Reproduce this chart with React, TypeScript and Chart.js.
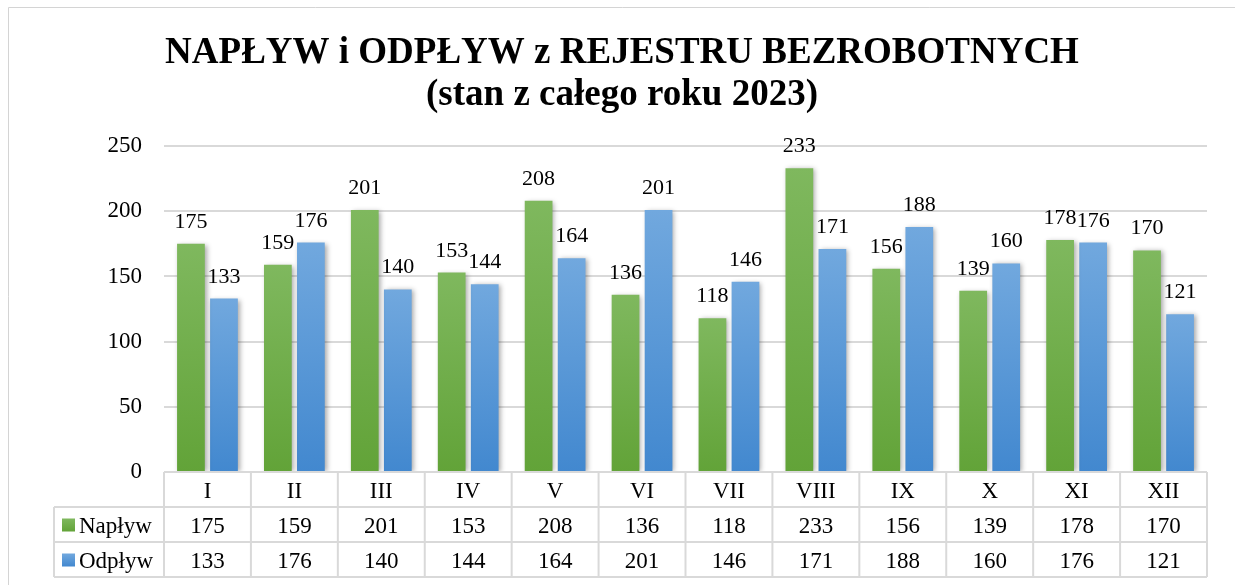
import React, { useEffect, useRef } from 'react';
import { Chart, registerables } from 'chart.js';

Chart.register(...registerables);

const TITLE_LINES = ['NAPŁYW i ODPŁYW z REJESTRU BEZROBOTNYCH', '(stan z całego roku 2023)'];
const CATEGORIES = ['I', 'II', 'III', 'IV', 'V', 'VI', 'VII', 'VIII', 'IX', 'X', 'XI', 'XII'];
const SERIES_NAMES = ['Napływ', 'Odpływ'];
const NAPLYW = [175, 159, 201, 153, 208, 136, 118, 233, 156, 139, 178, 170];
const ODPLYW = [133, 176, 140, 144, 164, 201, 146, 171, 188, 160, 176, 121];
const Y_MIN = 0;
const Y_MAX = 250;
const Y_STEP = 50;

const SERIF = '"Liberation Serif", "Times New Roman", "DejaVu Serif", serif';
const GREEN = ['#7fb85e', '#62a338'];
const BLUE = ['#71a8de', '#4288cf'];
const LINE = '#d9d9d9';

function barGradient(colors: string[]) {
  return (ctx: any) => {
    const chart = ctx.chart;
    const y = chart.scales && chart.scales.y;
    if (!y || ctx.type !== 'data') return colors[0];
    const top = y.getPixelForValue(ctx.raw);
    const bottom = y.getPixelForValue(0);
    if (!isFinite(top) || !isFinite(bottom) || top === bottom) return colors[0];
    const g = chart.ctx.createLinearGradient(0, top, 0, bottom);
    g.addColorStop(0, colors[0]);
    g.addColorStop(1, colors[1]);
    return g;
  };
}

const frameAndShadowPlugin = {
  id: 'frameAndShadow',
  beforeDraw(chart: any) {
    const ctx = chart.ctx;
    ctx.save();
    ctx.fillStyle = '#ffffff';
    ctx.fillRect(0, 0, chart.width, chart.height);
    ctx.strokeStyle = '#d4d4d4';
    ctx.lineWidth = 1;
    ctx.beginPath();
    ctx.moveTo(8.5, chart.height + 2);
    ctx.lineTo(8.5, 7.5);
    ctx.lineTo(chart.width + 2, 7.5);
    ctx.stroke();
    ctx.restore();
  },
  beforeDatasetsDraw(chart: any) {
    const ctx = chart.ctx;
    ctx.save();
    ctx.shadowColor = 'rgba(0,0,0,0.35)';
    ctx.shadowBlur = 5;
    ctx.shadowOffsetX = 2;
    ctx.shadowOffsetY = 1;
  },
  afterDatasetsDraw(chart: any) {
    const ctx = chart.ctx;
    ctx.restore();
    ctx.save();
    ctx.font = `22px ${SERIF}`;
    ctx.fillStyle = '#000000';
    ctx.textAlign = 'center';
    ctx.textBaseline = 'alphabetic';
    chart.data.datasets.forEach((ds: any, i: number) => {
      const meta = chart.getDatasetMeta(i);
      meta.data.forEach((el: any, j: number) => {
        ctx.fillText(String(ds.data[j]), el.x, el.y - 16);
      });
    });
    ctx.restore();
  },
};

const dataTablePlugin = {
  id: 'dataTable',
  afterDraw(chart: any) {
    const ctx = chart.ctx;
    const xs = chart.scales.x;
    const { left, right, bottom } = chart.chartArea;
    const tableBottom = xs.bottom;
    const rowH = (tableBottom - bottom) / 3;
    const rows = [bottom, bottom + rowH, bottom + 2 * rowH, tableBottom];
    const legendLeft = left - 110;
    const n = chart.data.labels.length;
    const colW = (right - left) / n;

    ctx.save();
    ctx.strokeStyle = LINE;
    ctx.lineWidth = 2;
    ctx.beginPath();
    ctx.moveTo(left, rows[0]);
    ctx.lineTo(right, rows[0]);
    for (let r = 1; r < 4; r++) {
      ctx.moveTo(legendLeft, rows[r]);
      ctx.lineTo(right, rows[r]);
    }
    for (let i = 0; i <= n; i++) {
      const x = left + i * colW;
      ctx.moveTo(x, rows[0]);
      ctx.lineTo(x, rows[3]);
    }
    ctx.moveTo(legendLeft, rows[1]);
    ctx.lineTo(legendLeft, rows[3]);
    ctx.stroke();

    ctx.fillStyle = '#000000';
    ctx.font = `23px ${SERIF}`;
    ctx.textAlign = 'center';
    ctx.textBaseline = 'alphabetic';
    chart.data.labels.forEach((lab: string, i: number) => {
      const cx = xs.getPixelForValue(i);
      ctx.fillText(lab, cx, (rows[0] + rows[1]) / 2 + 8);
    });
    chart.data.datasets.forEach((ds: any, d: number) => {
      const cy = (rows[d + 1] + rows[d + 2]) / 2;
      ds.data.forEach((v: number, i: number) => {
        ctx.fillText(String(v), xs.getPixelForValue(i), cy + 8);
      });
      const colors = d === 0 ? GREEN : BLUE;
      const g = ctx.createLinearGradient(0, cy - 6, 0, cy + 7);
      g.addColorStop(0, colors[0]);
      g.addColorStop(1, colors[1]);
      ctx.fillStyle = g;
      ctx.fillRect(legendLeft + 8, cy - 6, 13, 13);
      ctx.fillStyle = '#000000';
      ctx.textAlign = 'left';
      ctx.fillText(ds.label, legendLeft + 25, cy + 8);
      ctx.textAlign = 'center';
    });
    ctx.restore();
  },
};

export default function App() {
  const ref = useRef<HTMLCanvasElement | null>(null);

  useEffect(() => {
    if (!ref.current) return;
    const chart = new Chart(ref.current, {
      type: 'bar',
      data: {
        labels: CATEGORIES,
        datasets: [
          {
            label: SERIES_NAMES[0],
            data: NAPLYW,
            backgroundColor: barGradient(GREEN),
            borderWidth: 0,
            categoryPercentage: 0.76,
            barPercentage: 0.84,
          },
          {
            label: SERIES_NAMES[1],
            data: ODPLYW,
            backgroundColor: barGradient(BLUE),
            borderWidth: 0,
            categoryPercentage: 0.76,
            barPercentage: 0.84,
          },
        ],
      },
      options: {
        responsive: false,
        animation: false,
        layout: { padding: { left: 37, right: 28, top: 0, bottom: 8 } },
        plugins: {
          legend: { display: false },
          tooltip: { enabled: false },
          title: {
            display: true,
            text: TITLE_LINES,
            color: '#000000',
            font: { family: SERIF, size: 37, weight: 'bold', lineHeight: 1.15 },
            padding: { top: 32, bottom: 29 },
          },
        },
        scales: {
          x: {
            ticks: { display: false },
            grid: { display: false },
            border: { display: false },
            afterFit(scale: any) {
              scale.height = 105;
            },
          },
          y: {
            min: Y_MIN,
            max: Y_MAX,
            ticks: {
              stepSize: Y_STEP,
              padding: 22,
              color: '#000000',
              font: { family: SERIF, size: 23 },
            },
            grid: { color: LINE, lineWidth: 2, drawTicks: false },
            border: { display: false },
            afterFit(scale: any) {
              scale.width = 127;
            },
          },
        },
      },
      plugins: [frameAndShadowPlugin, dataTablePlugin],
    } as any);
    return () => chart.destroy();
  }, []);

  return (
    <div style={{ position: 'fixed', left: 0, top: 0, width: 1235, height: 585, background: '#ffffff' }}>
      <canvas ref={ref} width={1235} height={585} style={{ display: 'block', width: 1235, height: 585 }} />
    </div>
  );
}
